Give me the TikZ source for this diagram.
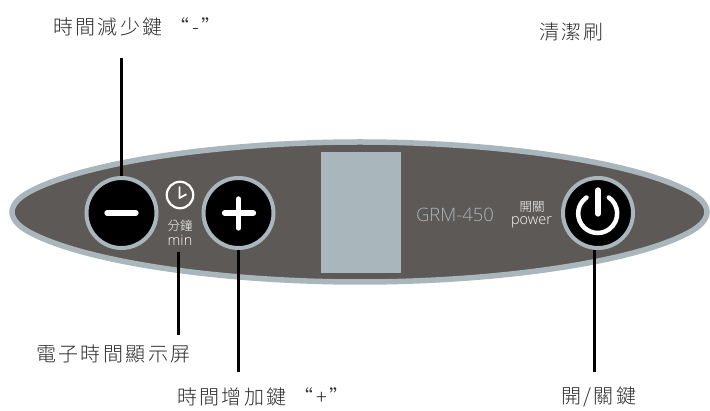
\documentclass[tikz,border=0pt]{standalone}
\usepackage{fontspec}
\setmainfont{Liberation Sans}
\newfontfamily\cjk[LetterSpace=12]{Noto Sans CJK TC Light}
\newfontfamily\cjksmall{Noto Sans CJK TC Light}
\newfontfamily\thinlat{Open Sans Light}
\definecolor{rimc}{HTML}{A9B6BC}
\definecolor{panelc}{HTML}{5C5957}
\definecolor{lblc}{HTML}{2A2A2A}
\tikzset{
  calllabel/.style={inner sep=0pt,text=lblc,font=\fontsize{20}{22}\selectfont\cjk},
  pushbtn/.style={circle,fill=black,draw=rimc,line width=4pt,minimum size=70pt,inner sep=0pt},
  leader/.style={line width=2.6pt,black},
  glyph/.style={white,line width=5.3pt,line cap=round},
  smalltxt/.style={inner sep=0pt,text=white,font=\fontsize{12.5}{13}\selectfont\cjksmall},
  smalllat/.style={inner sep=0pt,text=white,font=\fontsize{14.5}{15}\selectfont\thinlat},
}
\begin{document}
\begin{tikzpicture}[x=1pt,y=-1pt]
\useasboundingbox (0,0) rectangle (710,411);
% panel
\draw[fill=panelc,draw=rimc,line width=5.5pt]
  (12,212) .. controls (12,203) and (22,195) .. (35,189)
  .. controls (95,160) and (230,142) .. (360,142)
  .. controls (490,142) and (625,160) .. (684,189)
  .. controls (697,195) and (707,203) .. (707,212)
  .. controls (707,221) and (697,229) .. (684,235)
  .. controls (625,264) and (490,282) .. (360,282)
  .. controls (230,282) and (95,264) .. (35,235)
  .. controls (22,229) and (12,221) .. (12,212) -- cycle;
\node[fill=rimc,minimum width=80pt,minimum height=121pt,inner sep=0pt] (display) at (361,212.5) {};
% buttons
\node[pushbtn] (minus) at (121.5,213) {};
\node[pushbtn] (plus) at (238.5,213) {};
\node[pushbtn] (power) at (598,213) {};
\draw[glyph] (107,213) -- (136,213);
\draw[glyph] (224.5,213) -- (253.5,213);
\draw[glyph] (238.5,199) -- (238.5,228);
\draw[glyph] (598,190) -- (598,214);
\draw[glyph,line width=4.5pt] (586.5,197.5) arc[start angle=235,end angle=-55,radius=19.5];
% clock
\node[circle,draw=white,line width=2.2pt,minimum size=26.5pt,inner sep=0pt] (clock) at (180,195) {};
\draw[white,line width=1.8pt,line cap=round,line join=round] (179.5,187) -- (179.5,198) -- (186,194.5);
% panel texts
\node[smalltxt] (fen) at (180,225.5) {分鐘};
\node[smalllat] (minlbl) at (180,240.5) {min};
\node[inner sep=0pt,text=rimc,font=\fontsize{18.5}{19}\selectfont\thinlat] (model) at (455,215) {GRM-450};
\node[smalltxt] (kaiguan) at (532,207) {開關};
\node[smalllat] (powerlbl) at (531.5,222) {power};
% labels
\node[calllabel,anchor=west] (l1) at (53,27) {時間減少鍵 “-”};
\node[calllabel,anchor=west] (l2) at (539,32) {清潔刷};
\node[calllabel,anchor=west] (l3) at (36,354) {電子時間顯示屏};
\node[calllabel,anchor=west] (l4) at (177,397) {時間增加鍵 “+”};
\node[calllabel,anchor=west] (l5) at (561,397) {開/關鍵};
% leaders
\coordinate (c1) at (121.5,58);
\coordinate (c2a) at (178.5,252);
\coordinate (c2b) at (178.5,335);
\coordinate (c3) at (238.5,372);
\coordinate (c4) at (594.5,372);
\draw[leader] (c1) -- (minus.north);
\draw[leader] (c2a) -- (c2b);
\draw[leader] (plus.south) -- (c3);
\draw[leader] (power.south -| c4) -- (c4);
\end{tikzpicture}
\end{document}
